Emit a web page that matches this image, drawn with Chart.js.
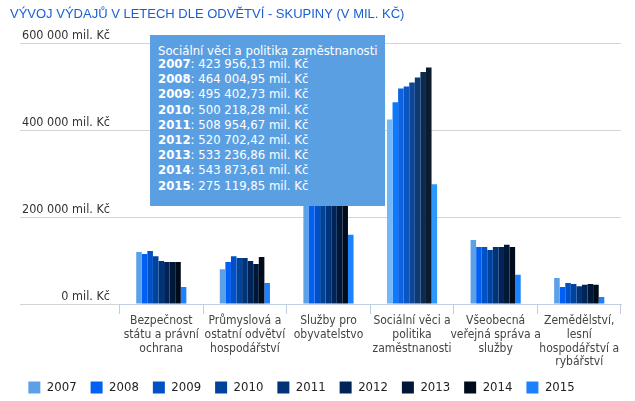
<!DOCTYPE html>
<html lang="cs">
<head>
<meta charset="utf-8">
<title>Vývoj výdajů v letech dle odvětví</title>
<script src="https://cdn.jsdelivr.net/npm/chart.js@4.4.1/dist/chart.umd.min.js"></script>
<style>
  html, body { margin: 0; padding: 0; background: #fff; }
  #wrap { position: relative; width: 635px; height: 401px; }
  #tip {
    position: absolute; display: none; pointer-events: none;
    background: #5b9fe3; color: #fff; white-space: nowrap;
    font: 13px "DejaVu Sans Condensed", "Noto Sans", sans-serif;
    padding: 10px 8px 13px 8px;
  }
  #tip .t { line-height: 11px; }
  #tip .r { line-height: 15.2px; }
</style>
</head>
<body>
<div id="wrap"><canvas id="chart"></canvas><div id="tip"></div></div>
<script>
const categories = [
    'Bezpečnost státu a právní ochrana',
    'Průmyslová a ostatní odvětví hospodářství',
    'Služby pro obyvatelstvo',
    'Sociální věci a politika zaměstnanosti',
    'Všeobecná veřejná správa a služby',
    'Zemědělství, lesní hospodářství a rybářství'
];
const tickLabels = [
    ['Bezpečnost', 'státu a právní', 'ochrana'],
    ['Průmyslová a', 'ostatní odvětví', 'hospodářství'],
    ['Služby pro', 'obyvatelstvo'],
    ['Sociální věci a', 'politika', 'zaměstnanosti'],
    ['Všeobecná', 'veřejná správa a', 'služby'],
    ['Zemědělství,', 'lesní', 'hospodářství a', 'rybářství']
];
const years = ['2007', '2008', '2009', '2010', '2011', '2012', '2013', '2014', '2015'];

// values in mil. Kč, one array per year, in category order
const v2007 = [119500, 80000, 245000, 423956.13, 147000, 60000];
const v2008 = [115000, 96500, 255000, 464004.95, 131000, 39000];
const v2009 = [122000, 110000, 275000, 495402.73, 131000, 48000];
const v2010 = [110000, 106000, 268000, 500218.28, 124000, 46000];
const v2011 = [99000, 106000, 262000, 508954.67, 131000, 41000];
const v2012 = [96500, 99000, 262000, 520702.42, 131000, 44000];
const v2013 = [96500, 92000, 268000, 533236.86, 136000, 46000];
const v2014 = [96500, 108000, 280000, 543873.61, 131000, 44000];
const v2015 = [39000, 48000, 159000, 275119.85, 67000, 16000];
const yTicks = [0, 200000, 400000, 600000];

const seriesValues = [v2007, v2008, v2009, v2010, v2011, v2012, v2013, v2014, v2015];
const colors = ['#5ca1e7', '#0060f6', '#0050c6', '#00439c', '#003478', '#002458', '#001838', '#000b1c', '#1c80ff'];
const hoverColors = ['#72b8f8', '#0b7aff', '#0b63e2', '#0b55c2', '#0d4694', '#0c3a72', '#0b2a52', '#0c1b2e', '#2a98ff'];

const FONT = '"DejaVu Sans Condensed", "Noto Sans", sans-serif';
Chart.defaults.font.family = FONT;

// 1234567.891 -> "1 234 567,89"
function fmt(v, dec) {
    const parts = v.toFixed(dec).split('.');
    const i = parts[0].replace(/\B(?=(\d{3})+(?!\d))/g, ' ');
    return parts[1] ? i + ',' + parts[1] : i;
}

function htmlTooltip({ chart, tooltip }) {
    const tip = document.getElementById('tip');
    if (tooltip.opacity === 0) {
        tip.style.display = 'none';
        return;
    }
    const rows = tooltip.dataPoints.map(p =>
        `<div class="r"><b>${p.dataset.label}</b>: ${fmt(p.raw, 2)} mil. Kč</div>`);
    tip.innerHTML = `<div class="t">${categories[tooltip.dataPoints[0].dataIndex]}</div>` + rows.join('');
    tip.style.display = 'block';
    tip.style.left = (tooltip.caretX - 262) + 'px';
    tip.style.top = (chart.chartArea.top - 8) + 'px';
}

// move the legend row a bit left and up, like the original
const legendNudge = {
    id: 'legendNudge',
    afterLayout(chart) {
        const l = chart.legend;
        l.left -= 14; l.right -= 14;
        l.top -= 3; l.bottom -= 3;
    }
};

const chart = new Chart(document.getElementById('chart'), {
    type: 'bar',
    data: {
        labels: tickLabels,
        datasets: years.map((y, i) => ({
            label: y,
            data: seriesValues[i],
            backgroundColor: colors[i],
            hoverBackgroundColor: hoverColors[i],
            borderWidth: 0
        }))
    },
    plugins: [legendNudge],
    options: {
        responsive: true,
        maintainAspectRatio: false,
        animation: false,
        events: [],
        layout: { padding: { left: 10, right: 14, top: 0, bottom: 0 } },
        datasets: { bar: { barPercentage: 1, categoryPercentage: 0.6 } },
        scales: {
            x: {
                grid: { offset: true, drawOnChartArea: false, tickLength: 10, color: '#c0d0e0' },
                border: { color: '#c0d0e0' },
                ticks: { color: '#444', font: { size: 12, lineHeight: 1.15 }, padding: 0, maxRotation: 0, autoSkip: false },
                afterFit: s => { s.height = 66; }
            },
            y: {
                min: 0,
                max: 600000,
                afterBuildTicks: s => { s.ticks = yTicks.map(v => ({ value: v })); },
                ticks: {
                    color: '#333',
                    font: { size: 12.5 },
                    labelOffset: -7,
                    padding: -90,
                    callback: v => fmt(v, 0) + ' mil. Kč'
                },
                grid: { color: '#d4d4d4', tickLength: 99.5 },
                border: { display: false },
                afterFit: s => { s.width = 109.5; }
            }
        },
        plugins: {
            title: {
                display: true,
                text: 'VÝVOJ VÝDAJŮ V LETECH DLE ODVĚTVÍ - SKUPINY (V MIL. KČ)',
                align: 'start',
                color: '#1a5fd6',
                font: { family: '"Liberation Sans Narrow", "Liberation Sans", sans-serif', size: 13, weight: 'normal', lineHeight: 1.2 },
                padding: { top: 7, bottom: 20.4 }
            },
            legend: {
                position: 'bottom',
                maxHeight: 31,
                labels: { boxWidth: 12, boxHeight: 12, padding: 14, color: '#222', font: { size: 13 } }
            },
            tooltip: {
                enabled: false,
                mode: 'index',
                intersect: false,
                external: htmlTooltip
            }
        }
    }
});

// show the state with "Sociální věci a politika zaměstnanosti" hovered
const active = chart.data.datasets.map((d, i) => ({ datasetIndex: i, index: 3 }));
chart.setActiveElements(active);
chart.tooltip.setActiveElements(active, { x: 0, y: 0 });
chart.update();
</script>
</body>
</html>
